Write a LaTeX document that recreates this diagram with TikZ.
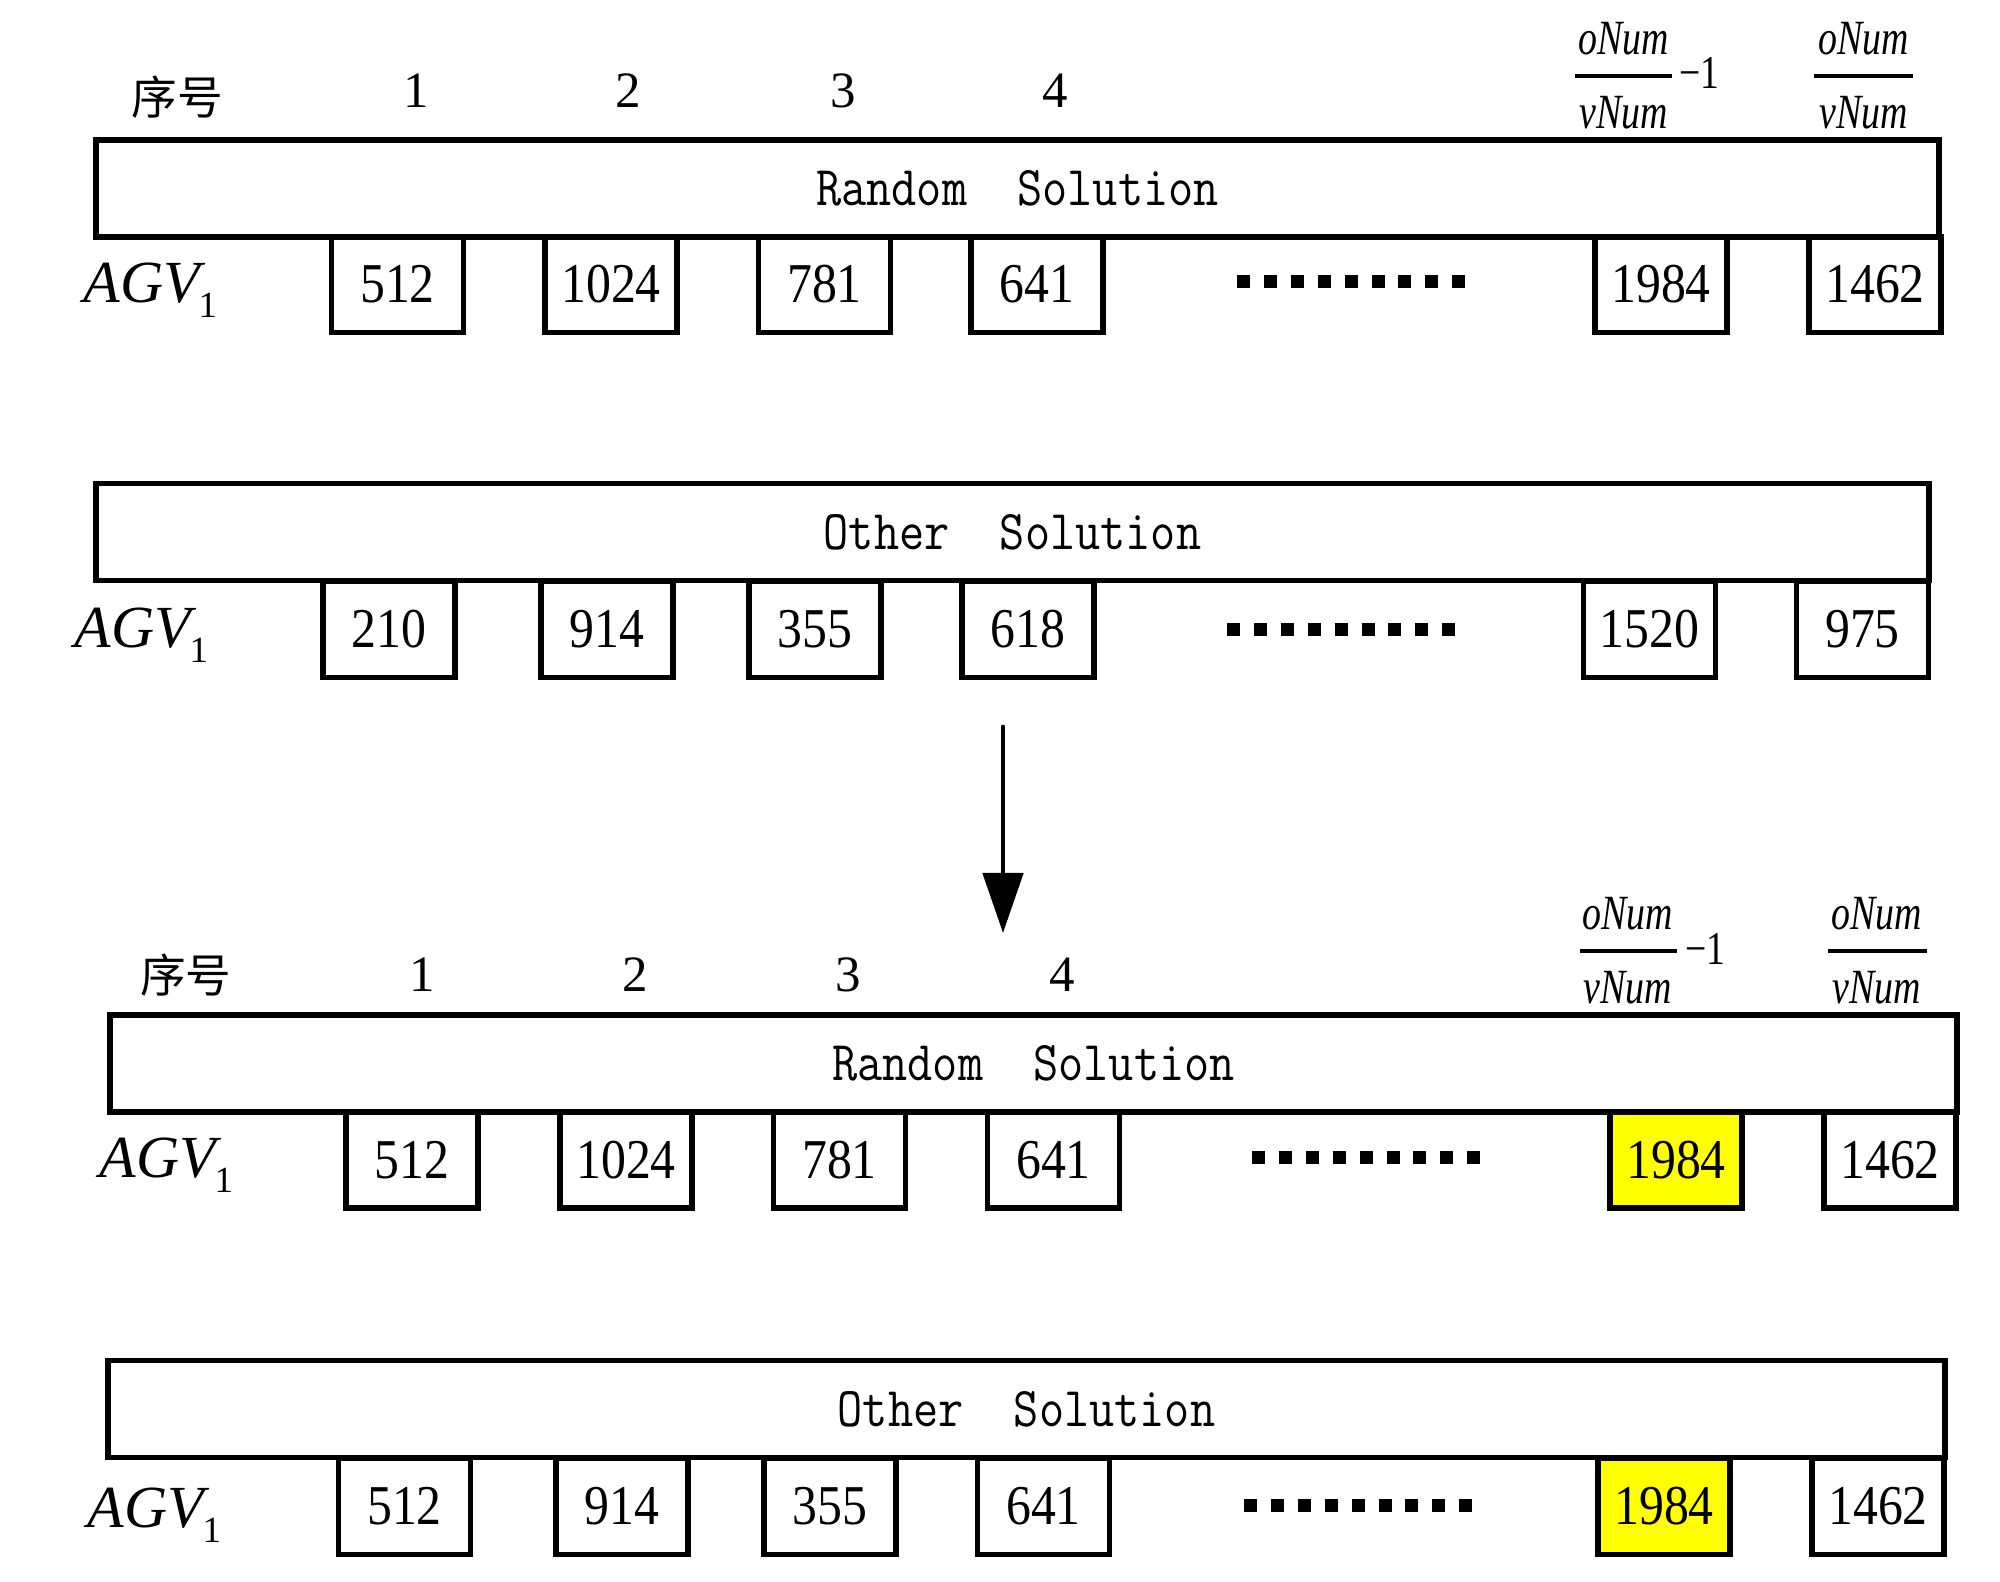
\documentclass[tikz,border=0pt]{standalone}
\usepackage{fontspec}
\usepackage{graphicx}
\setmainfont{Liberation Serif}
\newfontfamily\cjk{Noto Sans CJK SC}
\usetikzlibrary{arrows.meta}
\definecolor{myyellow}{rgb}{1.0, 1.0, 0.0}
\newcommand{\cond}[1]{\scalebox{0.885}[1]{#1}}
\newcommand{\agvlabel}{\textit{AGV}\kern-2pt\raisebox{-4pt}{\fontsize{10.5}{12}\selectfont 1}}

\begin{document}
\begin{tikzpicture}[
    solbox/.style={draw, line width=1.5pt, inner sep=0pt, minimum height=0.97cm,
                   font=\fontsize{13.9}{16}\ttfamily},
    gene/.style={draw, line width=1.5pt, inner sep=0pt, minimum width=1.32cm,
                 minimum height=0.96cm, font=\fontsize{16}{18}\selectfont},
    hit/.style={gene, fill=myyellow},
    idx/.style={font=\fontsize{14.5}{17}\selectfont},
    head/.style={font=\fontsize{13}{15}\cjk},
    agv/.style={anchor=base west, inner sep=0pt, font=\fontsize{17}{19}\selectfont},
    fracpart/.style={inner sep=0pt, font=\fontsize{14}{16}\selectfont\itshape},
    fracbar/.style={line width=1.1pt},
    minus/.style={anchor=west, inner sep=0pt, font=\fontsize{13.4}{15}\selectfont},
    dots/.style={line width=0.13cm, dash pattern=on 0.13cm off 0.139cm},
  ]
    \useasboundingbox (0,0) rectangle (20,15.82);

    % first random solution
    \node[head] (head1) at (1.77,14.85) {序号};
    \node[idx] (n11) at (4.16,14.91) {1};
    \node[idx] (n12) at (6.28,14.91) {2};
    \node[idx] (n13) at (8.43,14.91) {3};
    \node[idx] (n14) at (10.55,14.91) {4};
    \node[fracpart] (f1num) at (16.235,15.43) {\scalebox{0.77}[1]{oNum}};
    \node[fracpart] (f1den) at (16.235,14.69) {\scalebox{0.77}[1]{vNum}};
    \draw[fracbar] (15.75,15.06) -- (16.72,15.06);
    \node[minus] (f1m) at (16.79,15.09) {\scalebox{0.8}[1]{−1}};
    \node[fracpart] (f2num) at (18.635,15.43) {\scalebox{0.77}[1]{oNum}};
    \node[fracpart] (f2den) at (18.635,14.69) {\scalebox{0.77}[1]{vNum}};
    \draw[fracbar] (18.14,15.06) -- (19.13,15.06);
    \node[solbox, minimum width=18.43cm] (rand1) at (10.175,13.935) {\scalebox{1}[1.15]{Random\ \ Solution}};
    \node[agv] (agv1) at (0.83,12.79) {\agvlabel};
    \node[gene] (ra1) at (3.975,12.975) {\cond{512}};
    \node[gene] (ra2) at (6.11,12.975) {\cond{1024}};
    \node[gene] (ra3) at (8.245,12.975) {\cond{781}};
    \node[gene] (ra4) at (10.37,12.975) {\cond{641}};
    \draw[dots] (12.37,13.00) -- (14.65,13.00);
    \node[gene] (ra5) at (16.61,12.975) {\cond{1984}};
    \node[gene] (ra6) at (18.75,12.975) {\cond{1462}};

    % first other solution
    \node[solbox, minimum width=18.33cm] (other1) at (10.125,10.50) {\scalebox{1}[1.15]{Other\ \ Solution}};
    \node[agv] (agv2) at (0.74,9.34) {\agvlabel};
    \node[gene] (oa1) at (3.89,9.525) {\cond{210}};
    \node[gene] (oa2) at (6.07,9.525) {\cond{914}};
    \node[gene] (oa3) at (8.15,9.525) {\cond{355}};
    \node[gene] (oa4) at (10.28,9.525) {\cond{618}};
    \draw[dots] (12.27,9.525) -- (14.55,9.525);
    \node[gene] (oa5) at (16.495,9.525) {\cond{1520}};
    \node[gene] (oa6) at (18.625,9.525) {\cond{975}};

    % exchange
    \coordinate (arrtop) at (10.03,8.55);
    \coordinate (arrtip) at (10.03,6.49);
    \draw[-{Triangle[length=6mm, width=4mm]}, line width=1.4pt, line cap=round] (arrtop) -- (arrtip);

    % second random solution
    \node[head] (head2) at (1.86,6.07) {序号};
    \node[idx] (n21) at (4.22,6.07) {1};
    \node[idx] (n22) at (6.35,6.07) {2};
    \node[idx] (n23) at (8.48,6.07) {3};
    \node[idx] (n24) at (10.62,6.07) {4};
    \node[fracpart] (f3num) at (16.28,6.68) {\scalebox{0.77}[1]{oNum}};
    \node[fracpart] (f3den) at (16.28,5.94) {\scalebox{0.77}[1]{vNum}};
    \draw[fracbar] (15.80,6.31) -- (16.77,6.31);
    \node[minus] (f3m) at (16.85,6.33) {\scalebox{0.8}[1]{−1}};
    \node[fracpart] (f4num) at (18.77,6.68) {\scalebox{0.77}[1]{oNum}};
    \node[fracpart] (f4den) at (18.77,5.94) {\scalebox{0.77}[1]{vNum}};
    \draw[fracbar] (18.28,6.31) -- (19.27,6.31);
    \node[solbox, minimum width=18.47cm] (rand2) at (10.335,5.185) {\scalebox{1}[1.15]{Random\ \ Solution}};
    \node[agv] (agv3) at (0.99,4.04) {\agvlabel};
    \node[gene] (rb1) at (4.12,4.22) {\cond{512}};
    \node[gene] (rb2) at (6.26,4.22) {\cond{1024}};
    \node[gene] (rb3) at (8.395,4.22) {\cond{781}};
    \node[gene] (rb4) at (10.535,4.22) {\cond{641}};
    \draw[dots] (12.52,4.24) -- (14.80,4.24);
    \node[hit] (rb5) at (16.76,4.22) {\cond{1984}};
    \node[gene] (rb6) at (18.90,4.22) {\cond{1462}};

    % second other solution
    \node[solbox, minimum width=18.37cm] (other2) at (10.265,1.73) {\scalebox{1}[1.15]{Other\ \ Solution}};
    \node[agv] (agv4) at (0.87,0.54) {\agvlabel};
    \node[gene] (ob1) at (4.045,0.755) {\cond{512}};
    \node[gene] (ob2) at (6.22,0.755) {\cond{914}};
    \node[gene] (ob3) at (8.30,0.755) {\cond{355}};
    \node[gene] (ob4) at (10.435,0.755) {\cond{641}};
    \draw[dots] (12.44,0.76) -- (14.72,0.76);
    \node[hit] (ob5) at (16.64,0.755) {\cond{1984}};
    \node[gene] (ob6) at (18.78,0.755) {\cond{1462}};
\end{tikzpicture}
\end{document}
